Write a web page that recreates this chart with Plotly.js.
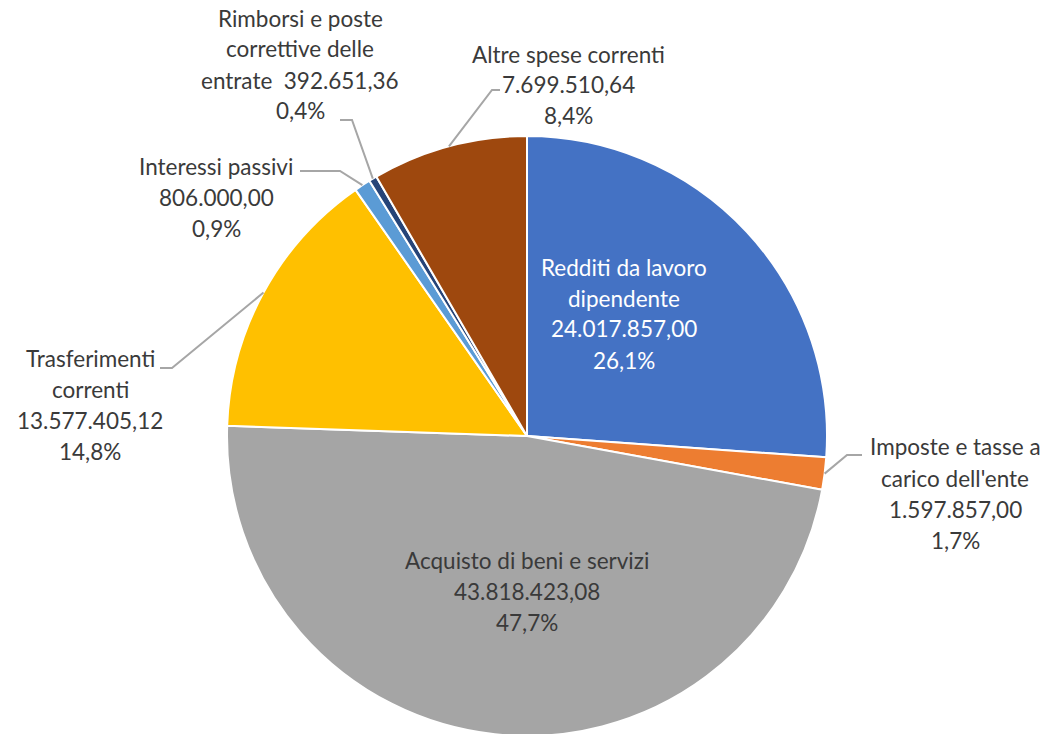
<!DOCTYPE html>
<html>
<head>
<meta charset="utf-8">
<script src="https://cdn.plot.ly/plotly-3.0.1.min.js"></script>
<style>
html,body{margin:0;padding:0;background:#fff;overflow:hidden;}
#chart{width:1049px;height:872px;}
</style>
</head>
<body>
<div id="chart"></div>
<script>
// ---- data ----
const categories = [
  "Redditi da lavoro dipendente",
  "Imposte e tasse a carico dell'ente",
  "Acquisto di beni e servizi",
  "Trasferimenti correnti",
  "Interessi passivi",
  "Rimborsi e poste correttive delle entrate",
  "Altre spese correnti"
];
const values = [24017857.00, 1597857.00, 43818423.08, 13577405.12, 806000.00, 392651.36, 7699510.64];
const colors = ["#4472C4", "#ED7D31", "#A5A5A5", "#FFC000", "#5B9BD5", "#264478", "#9E480E"];

// ---- layout of labels (pixel space) ----
const W = 1049, H = 872;
const CX = 527, CY = 436, R = 300;
const LINE = 31;
const FONT = "Lato, 'Open Sans', sans-serif";
const FSIZE = 22.5;
const labelCfg = [
  {lines: ["Redditi da lavoro", "dipendente"], cx: 624, y0: 267, color: "#ffffff"},
  {lines: ["Imposte e tasse a", "carico dell'ente"], cx: 955, y0: 447, leader: [[847, 455], [862, 455]]},
  {lines: ["Acquisto di beni e servizi"], cx: 527, y0: 560},
  {lines: ["Trasferimenti", "correnti"], cx: 90, y0: 358, leader: [[172, 368], [160, 368]]},
  {lines: ["Interessi passivi"], cx: 216, y0: 166, leader: [[340, 171], [300, 171]]},
  {lines: ["Rimborsi e poste", "correttive delle", "entrate"], join: true, cx: 300, y0: 18, leader: [[352, 120], [340, 120]]},
  {lines: ["Altre spese correnti"], cx: 568, y0: 54, leader: [[492, 90], [500, 90]]}
];

function fmtIt(v, d) {
  const s = v.toFixed(d);
  const parts = s.split(".");
  const intPart = parts[0].replace(/\B(?=(\d{3})+(?!\d))/g, ".");
  return parts.length > 1 ? intPart + "," + parts[1] : intPart;
}
const px = x => x / W;
const py = y => 1 - y / H;

const total = values.reduce((a, b) => a + b, 0);
const annotations = [];
const shapes = [];
let cum = 0;
values.forEach((v, i) => {
  const mid = (cum + v / 2) / total * 2 * Math.PI;
  cum += v;
  const cfg = labelCfg[i];
  const valStr = fmtIt(v, 2);
  const pctStr = fmtIt(v / total * 100, 1) + "%";
  let lines = cfg.lines.slice();
  if (cfg.join) {
    lines[lines.length - 1] = lines[lines.length - 1] + "  " + valStr;
  } else {
    lines.push(valStr);
  }
  lines.push(pctStr);
  lines.forEach((t, k) => {
    annotations.push({
      xref: "paper", yref: "paper",
      x: px(cfg.cx), y: py(cfg.y0 + k * LINE),
      xanchor: "center", yanchor: "middle",
      text: t, showarrow: false,
      font: {family: FONT, size: FSIZE, color: cfg.color || "#3a3a3a"}
    });
  });
  if (cfg.leader) {
    const ex = CX + R * Math.sin(mid), ey = CY - R * Math.cos(mid);
    const pts = [[ex, ey]].concat(cfg.leader);
    const path = pts.map((p, k) => (k ? "L" : "M") + px(p[0]) + "," + py(p[1])).join(" ");
    shapes.push({type: "path", xref: "paper", yref: "paper", path: path,
      line: {color: "#A6A6A6", width: 2}});
  }
});

const trace = {
  type: "pie",
  labels: categories,
  values: values,
  sort: false,
  direction: "clockwise",
  rotation: 0,
  textinfo: "none",
  hoverinfo: "none",
  marker: {colors: colors, line: {color: "#ffffff", width: 2}},
  domain: {x: [(CX - R) / W, (CX + R) / W], y: [0, 1]},
  showlegend: false
};

Plotly.newPlot("chart", [trace], {
  width: W, height: H,
  margin: {l: 0, r: 0, t: 0, b: 0},
  paper_bgcolor: "#ffffff",
  showlegend: false,
  annotations: annotations,
  shapes: shapes
}, {staticPlot: true, displayModeBar: false});
</script>
</body>
</html>
